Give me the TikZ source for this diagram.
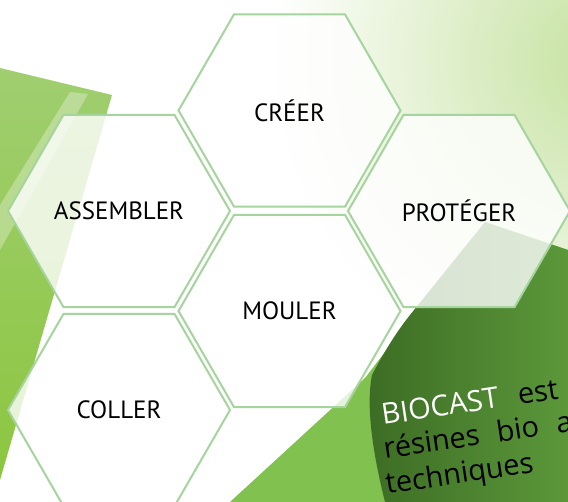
\documentclass[tikz,border=0pt]{standalone}
\usepackage{fontspec}
\setmainfont{PT Sans}
\newfontfamily\bodyfont{Open Sans}
\usetikzlibrary{shapes.geometric}
\definecolor{hexline}{RGB}{166,212,158}
\definecolor{glow}{RGB}{196,225,158}
\definecolor{swoopTop}{RGB}{160,206,112}
\definecolor{swoopBot}{RGB}{140,198,64}
\definecolor{leafBright}{RGB}{128,193,80}
\definecolor{leafDarkA}{RGB}{60,108,36}
\definecolor{leafDarkB}{RGB}{92,152,58}
\tikzset{
  hexa/.style={regular polygon,regular polygon sides=6,minimum size=222pt,inner sep=0pt,
    draw=hexline,line width=2pt,fill=white,fill opacity=0.8,text opacity=1,
    font=\fontsize{25}{28}\selectfont},
  blurb/.style={rotate=8.5,anchor=base west,inner sep=0pt,font=\bodyfont\fontsize{29}{32}\selectfont}
}
\begin{document}
\begin{tikzpicture}[x=1pt,y=-1pt]
\useasboundingbox (0,0) rectangle (568,502);
\clip (0,0) rectangle (568,502);
\fill[white] (0,0) rectangle (568,502);
\shade[inner color=glow,outer color=white] (610,60) ellipse (340 and 330);
\shade[top color=swoopTop,bottom color=swoopBot] (0,68) -- (112,95) -- (0,480) -- cycle;
\fill[white,opacity=0.3] (70,92) -- (88,94) -- (0,250) -- (0,205) -- cycle;
\fill[leafBright] (230,502) -- (365,378) -- (485,222) -- (568,250) -- (568,502) -- cycle;
\shade[left color=leafDarkA,right color=leafDarkB] (385,502) .. controls (372,450) and (366,405) .. (372,375)
  .. controls (385,350) and (398,330) .. (410,315) -- (485,222) -- (568,250) -- (568,502) -- cycle;

\node[hexa] (creer) at (289.5,110.5) {CRÉER};
\node[hexa] (assembler) at (119,211) {ASSEMBLER};
\node[hexa] (proteger) at (459,211) {PROTÉGER};
\node[hexa] (mouler) at (289.5,311) {MOULER};
\node[hexa] (coller) at (119,410) {COLLER};

\node[blurb] (ligneA) at (383,425) {\textcolor{white}{BIOCAST}\hspace{12pt} est};
\node[blurb] (ligneB) at (385,459) {résines\hspace{10pt} bio\hspace{10pt} au};
\node[blurb] (ligneC) at (387,494) {techniques};
\end{tikzpicture}
\end{document}
